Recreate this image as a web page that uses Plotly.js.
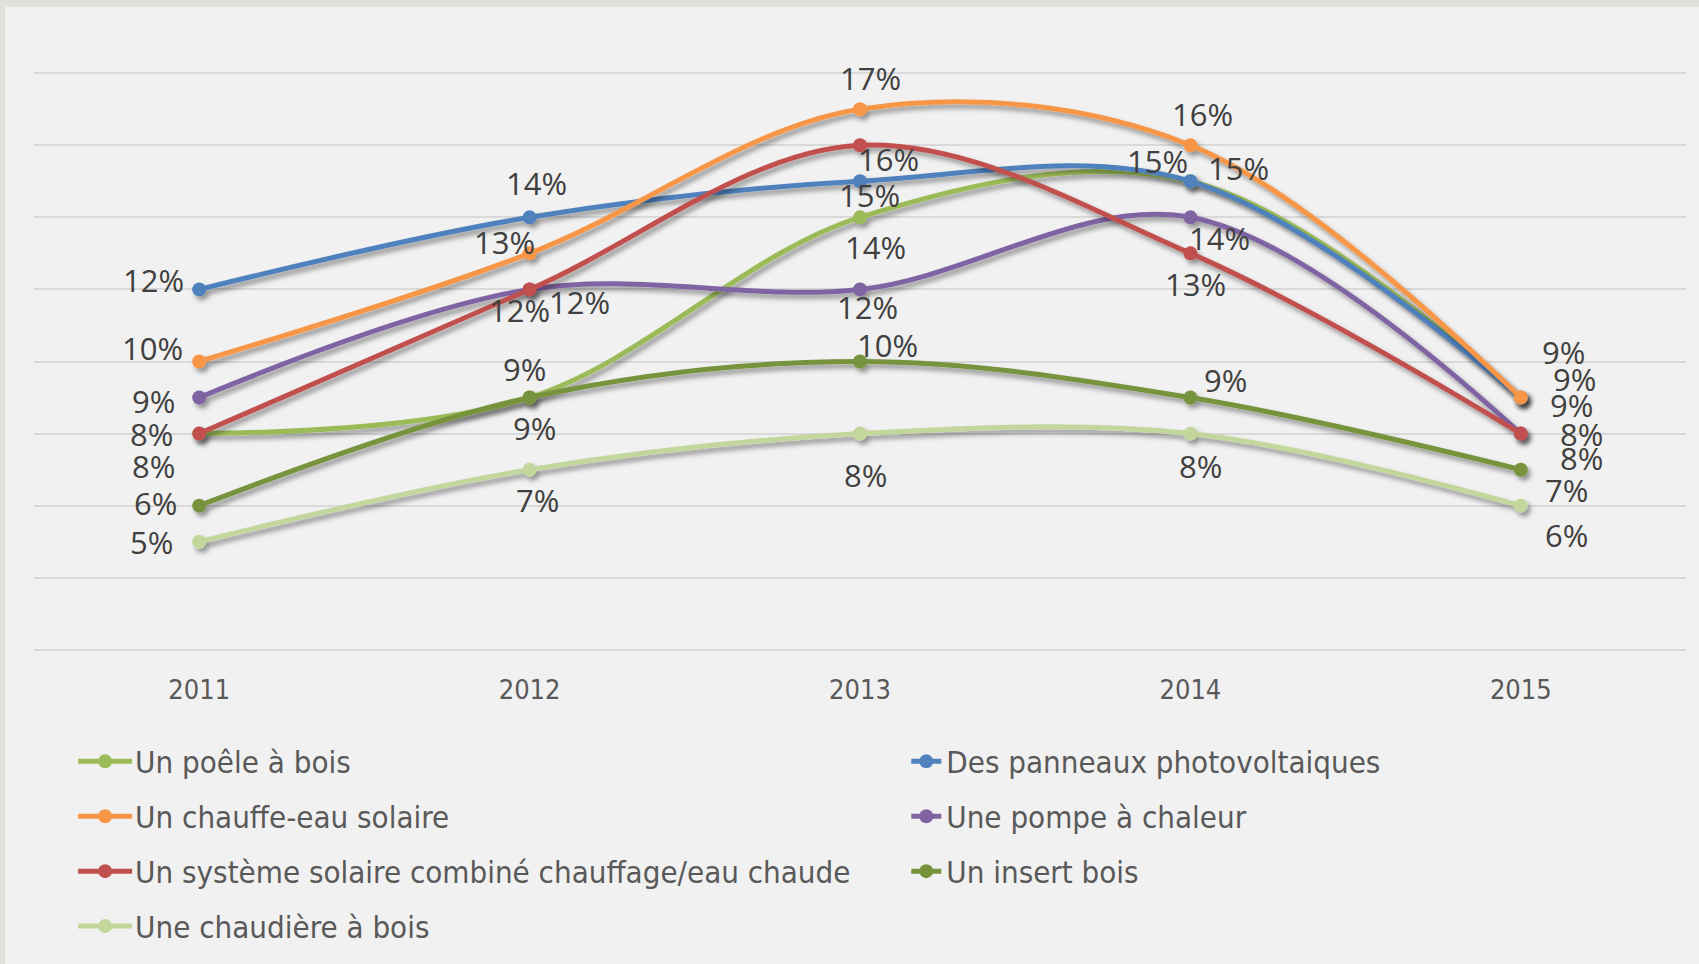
<!DOCTYPE html>
<html>
<head>
<meta charset="utf-8">
<script src="https://cdn.plot.ly/plotly-3.0.1.min.js"></script>
<style>
  html, body { margin: 0; padding: 0; background: #E1E1DC; width: 1699px; height: 964px; overflow: hidden; }
  #chart { position: absolute; left: 5px; top: 7px; width: 1694px; height: 957px; }
  .scatterlayer .trace { filter: url(#dropshadow); }
  .legend .scrollbox { clip-path: none; }
  .legend .legendlines path {
    transform-box: view-box; transform-origin: 0px 0px;
    transform: translate(-26px, 0px) scale(1.8, 1);
  }
  .legend .legendpoints path.scatterpts {
    transform-box: view-box; transform-origin: 0px 0px;
    transform: translate(10px, 0px);
  }
</style>
</head>
<body>
<svg width="0" height="0" style="position:absolute">
  <defs>
    <filter id="dropshadow" x="-20%" y="-20%" width="140%" height="140%">
      <feDropShadow dx="3" dy="4" stdDeviation="2.5" flood-color="#000" flood-opacity="0.4"/>
    </filter>
  </defs>
</svg>
<div id="chart"></div>
<script>
// ---- data ----
const years = ['2011', '2012', '2013', '2014', '2015'];

const seriesNames = [
  'Un poêle à bois',
  'Des panneaux photovoltaiques',
  'Un chauffe-eau solaire',
  'Une pompe à chaleur',
  'Un système solaire combiné chauffage/eau chaude',
  'Un insert bois',
  'Une chaudière à bois'
];

const poeleBois      = [8, 9, 14, 15, 9];
const panneauxPV     = [12, 14, 15, 15, 9];
const chauffeEau     = [10, 13, 17, 16, 9];
const pompeChaleur   = [9, 12, 12, 14, 8];
const systemeSolaire = [8, 12, 16, 13, 8];
const insertBois     = [6, 9, 10, 9, 7];
const chaudiereBois  = [5, 7, 8, 8, 6];

const seriesValues = [poeleBois, panneauxPV, chauffeEau, pompeChaleur, systemeSolaire, insertBois, chaudiereBois];

// ---- styles ----
const colors = ['#9BBB59', '#4F81BD', '#F79646', '#8064A2', '#C0504D', '#77933C', '#C3D69B'];
const legendOf = ['legend', 'legend2', 'legend', 'legend2', 'legend', 'legend2', 'legend'];

// data-label placement (screen px offsets from the point: [dx right, dy down])
const labelOffsets = [
  [[-46, 34], [5, 32], [15, 32], [-33, -18], [51, 9]],
  [[-46, -7], [7, -32], [9, 16], [48, -11], [54, -17]],
  [[-47, -12], [-25, -9], [10, -29], [12, -29], [43, -44]],
  [[-46, 5], [50, 15], [7, 20], [29, 23], [61, 2]],
  [[-48, 2], [-10, 23], [28, 16], [5, 33], [61, 26]],
  [[-44, -1], [-5, -27], [27, -15], [35, -16], [46, 22]],
  [[-48, 2], [8, 32], [5, 43], [10, 34], [46, 31]]
];
const labelBaselineTweak = 2;

const traces = seriesNames.map((name, i) => ({
  type: 'scatter',
  mode: 'lines+markers',
  name: name,
  x: years,
  y: seriesValues[i],
  line: { color: colors[i], width: 5, shape: 'spline', smoothing: 1 },
  marker: { color: colors[i], size: 14 },
  legend: legendOf[i],
  legendgroup: 'g' + i,
  hoverinfo: 'skip'
}));

const annotations = [];
seriesValues.forEach((vals, i) => {
  vals.forEach((v, j) => {
    annotations.push({
      x: j, y: v, xref: 'x', yref: 'y',
      text: v + '%',
      showarrow: false,
      xanchor: 'center', yanchor: 'middle',
      xshift: labelOffsets[i][j][0],
      yshift: -labelOffsets[i][j][1] + labelBaselineTweak,
      font: { family: 'Open Sans', size: 31, color: '#404040' }
    });
  });
});

const legendFont = { family: 'DejaVu Sans Condensed', size: 31, color: '#595959' };

const layout = {
  width: 1694, height: 957,
  margin: { l: 29, r: 13, t: 63.5, b: 311.8, autoexpand: false },
  paper_bgcolor: '#F1F1F1',
  plot_bgcolor: '#F1F1F1',
  showlegend: true,
  xaxis: {
    type: 'category',
    range: [-0.5, 4.5],
    showgrid: false, zeroline: false, showline: false,
    ticks: '',
    ticklabelstandoff: 19,
    tickfont: { family: 'DejaVu Sans Condensed', size: 27, color: '#595959' },
    fixedrange: true
  },
  yaxis: {
    range: [1.94, 18.06],
    tick0: 2,
    dtick: 2,
    showticklabels: false,
    showgrid: true, gridcolor: '#D9D9D9', gridwidth: 2,
    zeroline: false, showline: false, ticks: '',
    fixedrange: true
  },
  legend: {
    orientation: 'v', x: 0.037, xanchor: 'left', y: -0.1423, yanchor: 'top',
    bgcolor: 'rgba(0,0,0,0)', font: legendFont, tracegroupgap: 11.6, traceorder: 'grouped'
  },
  legend2: {
    orientation: 'v', x: 0.528, xanchor: 'left', y: -0.1423, yanchor: 'top',
    bgcolor: 'rgba(0,0,0,0)', font: legendFont, tracegroupgap: 11.6, traceorder: 'grouped'
  },
  annotations: annotations
};

Plotly.newPlot('chart', traces, layout, { displayModeBar: false, staticPlot: true });
</script>
</body>
</html>
